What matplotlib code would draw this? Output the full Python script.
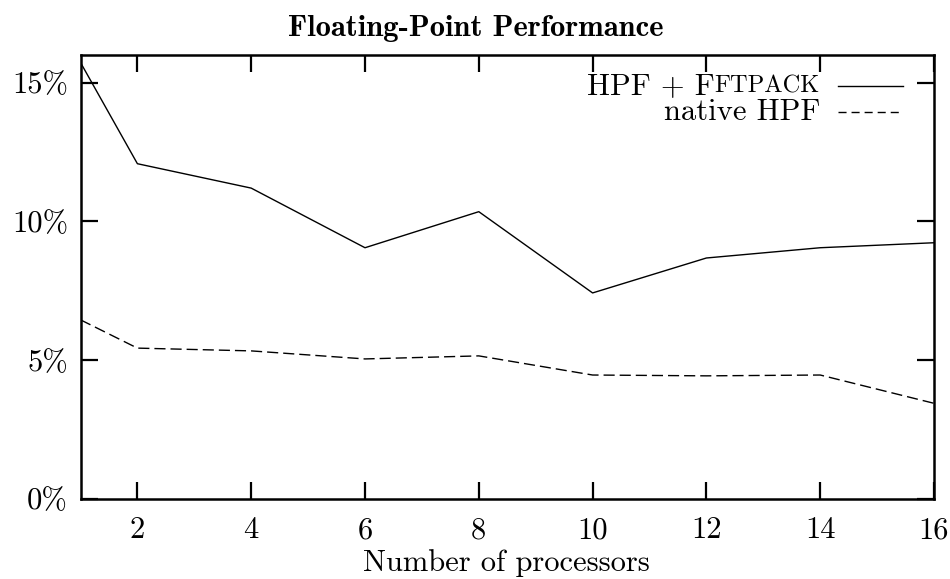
import numpy as np
import matplotlib
matplotlib.use("Agg")
from matplotlib import pyplot as plt

plt.rcParams['font.family'] = ['cmr10', 'DejaVu Serif']
plt.rcParams['axes.unicode_minus'] = False
plt.rcParams['mathtext.fontset'] = 'cm'

# data
processors = [1, 2, 4, 6, 8, 10, 12, 14, 16]
hpf_fftpack = [15.73, 12.08, 11.2, 9.05, 10.35, 7.42, 8.68, 9.05, 9.23]
native_hpf = [6.45, 5.43, 5.33, 5.04, 5.15, 4.46, 4.43, 4.46, 3.44]
x_ticks = [2, 4, 6, 8, 10, 12, 14, 16]
y_ticks = [0, 5, 10, 15]
y_tick_labels = ['0%', '5%', '10%', '15%']

fs = 22
W, H = 950, 579
fig = plt.figure(figsize=(W / 100, H / 100), dpi=100)
ax = fig.add_axes([80.5 / W, 1 - 498.7 / H, (934 - 80.5) / W, (498.7 - 55) / H])

ax.plot(processors, hpf_fftpack, color='black', lw=1.0)
ax.plot(processors, native_hpf, color='black', lw=1.0, dashes=(8, 3.6))

ax.set_xlim(1, 16)
ax.set_ylim(0, 16)
ax.set_xticks(x_ticks)
ax.set_xticklabels([str(v) for v in x_ticks], fontsize=fs)
ax.set_yticks(y_ticks)
ax.set_yticklabels(y_tick_labels, fontsize=fs)
ax.tick_params(direction='in', length=12, width=1.6, top=True, right=True)
ax.tick_params(axis='x', pad=13)
ax.tick_params(axis='y', pad=9)
for sp in ax.spines.values():
    sp.set_linewidth(1.8)

fig.text(506 / W, 1 - 571 / H, 'Number of processors', fontsize=fs,
         ha='center', va='baseline')
fig.text(476 / W, 1 - 28 / H, 'Floating-Point Performance', fontsize=fs,
         family='cmb10', ha='center', va='center')

# gnuplot-style key, top right
tr = ax.transAxes
def ax_xy(px, py):
    return ((px - 80.5) / (934 - 80.5), (498.7 - py) / (498.7 - 55))

x0, y0 = ax_xy(820, 86)
x1, _ = ax_xy(838, 86)
x2, _ = ax_xy(903, 86)
_, y1 = ax_xy(820, 112)
t1 = ax.text(x0, y0, 'FTPACK', fontsize=fs * 0.8, ha='right', va='center', transform=tr)
fig.canvas.draw()
bb = t1.get_window_extent().transformed(tr.inverted())
ax.text(bb.x0, y0, 'HPF + F', fontsize=fs, ha='right', va='center', transform=tr)
ax.plot([x1, x2], [y0, y0], color='black', lw=1.0, transform=tr, clip_on=False)
ax.text(x0, y1, 'native HPF', fontsize=fs, ha='right', va='center', transform=tr)
ax.plot([x1, x2], [y1, y1], color='black', lw=1.0, dashes=(5.8, 3.6), transform=tr, clip_on=False)

fig.savefig('out.png', dpi=100)
